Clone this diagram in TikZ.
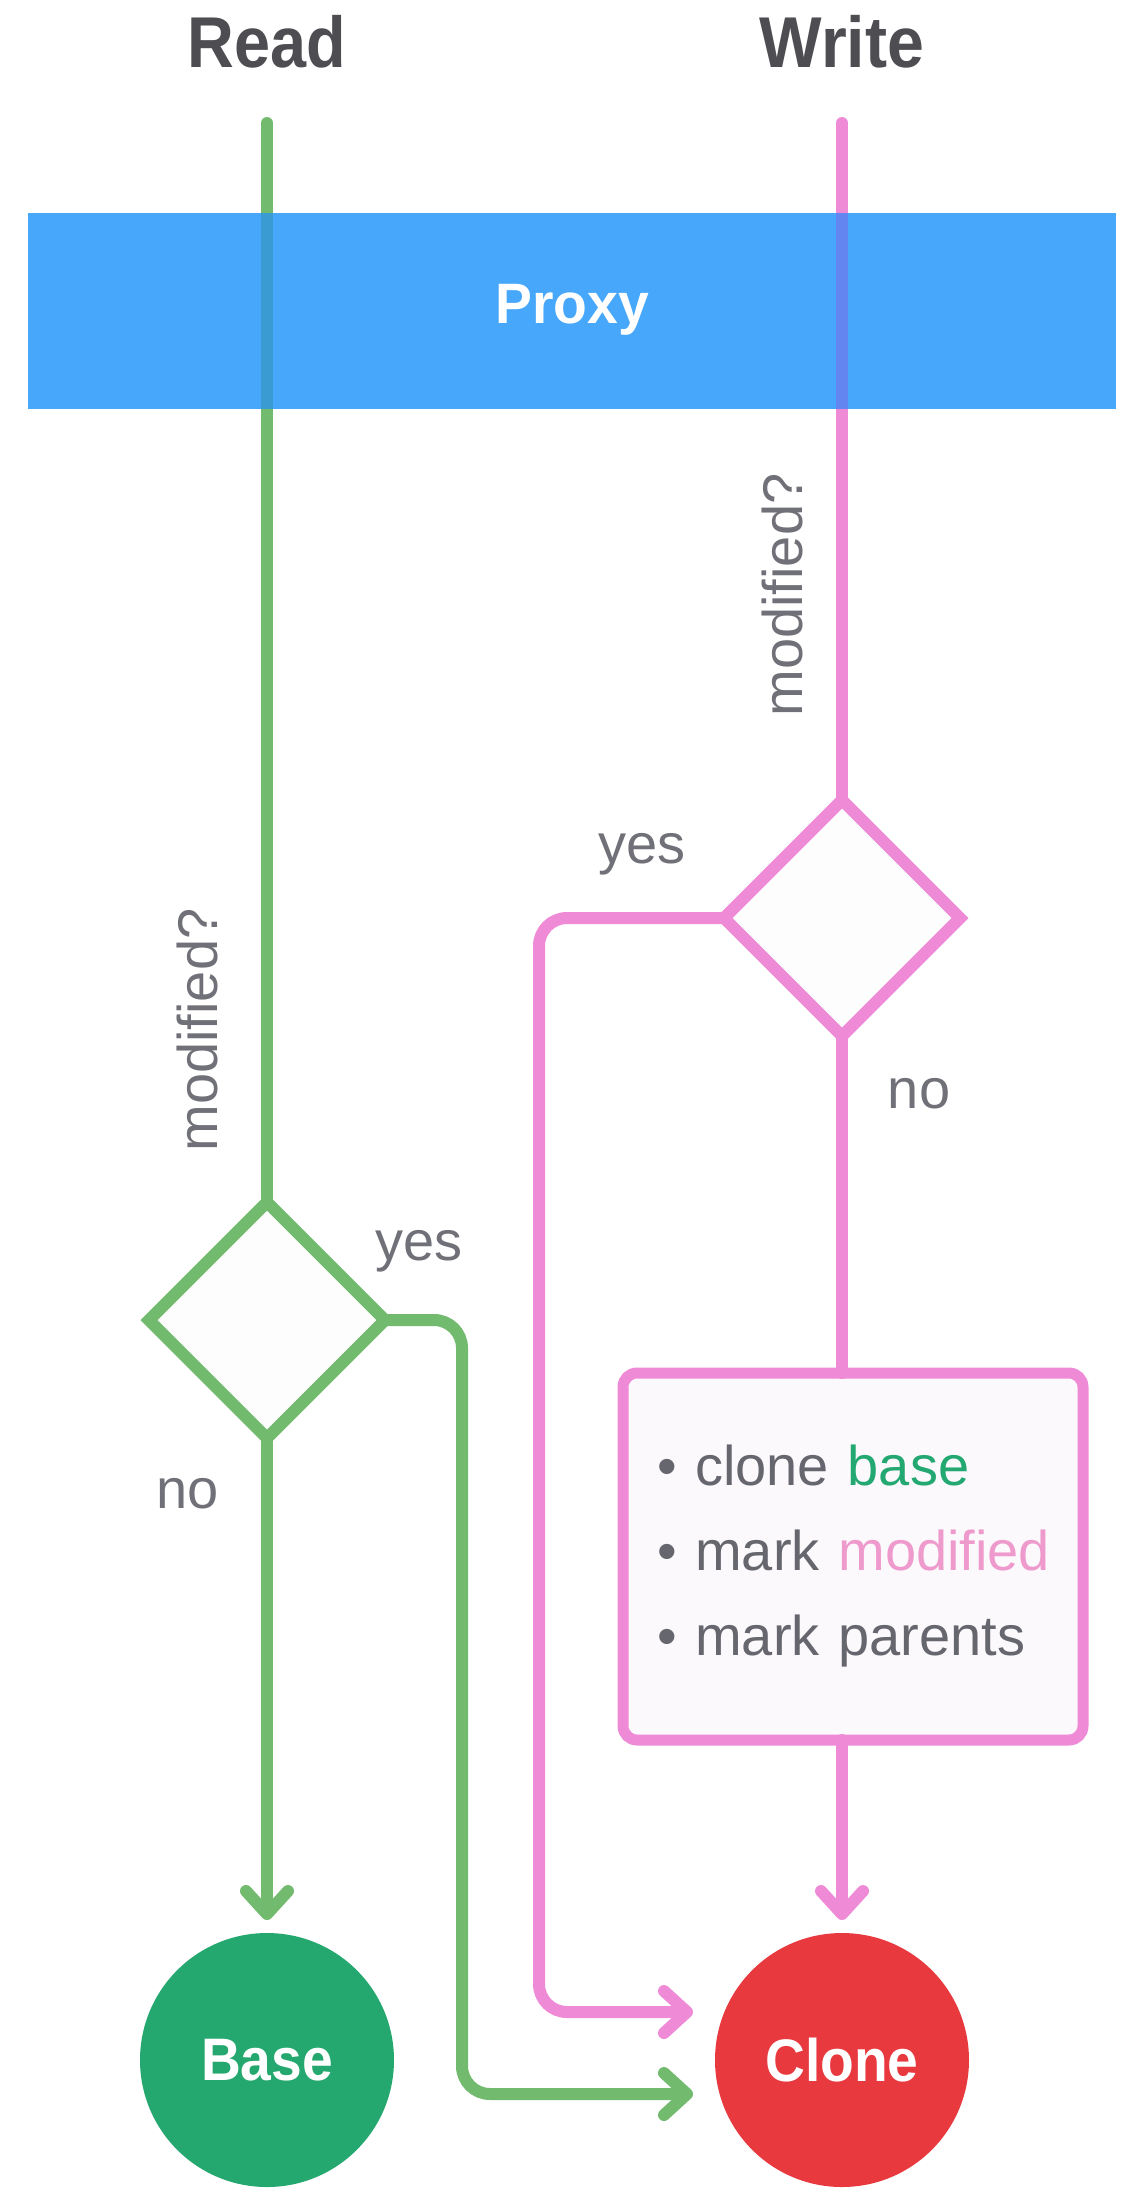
\documentclass[tikz,border=0pt]{standalone}
\usepackage{fontspec}
\setmainfont{Liberation Sans}
\usetikzlibrary{shapes.geometric, arrows.meta}
\definecolor{gline}{HTML}{72BA6E}
\definecolor{pline}{HTML}{EE8AD6}
\definecolor{gmix}{HTML}{3A9AD2}
\definecolor{pmix}{HTML}{6285F0}
\definecolor{bandblue}{HTML}{47A7FB}
\definecolor{basegreen}{HTML}{24A86F}
\definecolor{clonered}{HTML}{E8393F}
\definecolor{lblgrey}{HTML}{707078}
\definecolor{headgrey}{HTML}{4D4D52}
\definecolor{txtgrey}{HTML}{66666E}
\definecolor{wordgreen}{HTML}{23A872}
\definecolor{wordpink}{HTML}{EE9ACD}
\definecolor{dfill}{HTML}{FDFDFE}
\definecolor{bfill}{HTML}{FBF9FC}
\begin{document}
\begin{tikzpicture}[x=0.5pt,y=-0.5pt,
  gl/.style={draw=gline, line width=6pt, line cap=round},
  pl/.style={draw=pline, line width=6pt, line cap=round},
  arr/.style={-{Straight Barb[length=11.5pt,width=21pt,round]}},
  dec/.style={diamond, aspect=1, minimum size=118pt, inner sep=0pt, outer sep=0pt, line width=6pt, fill=dfill},
  term/.style={circle, minimum size=127pt, inner sep=0pt, outer sep=0pt, text=white, font=\bfseries\fontsize{30}{34}\selectfont},
  lbl/.style={text=lblgrey, font=\fontsize{28}{34}\selectfont, inner sep=0pt},
  head/.style={text=headgrey, font=\bfseries\fontsize{36}{42}\selectfont, inner sep=0pt},
  stepbox/.style={rectangle, rounded corners=7pt, draw=pline, line width=5.5pt, fill=bfill,
    minimum width=230pt, minimum height=183.5pt, text width=202pt, inner xsep=14pt, inner ysep=0pt,
    outer sep=0pt, align=left, text=txtgrey, font=\fontsize{28}{42.5}\selectfont}
]
\useasboundingbox (0,0) rectangle (1128,2202);

% headings
\node[head, anchor=base] (read) at (267,67) {\scalebox{0.9}[1]{Read}};
\node[head, anchor=base] (write) at (842,67) {\scalebox{0.92}[1]{Write}};

% proxy band
\node[rectangle, fill=bandblue, minimum width=544pt, minimum height=98pt, inner sep=0pt, outer sep=0pt] (proxy) at (572,311) {};
\node[text=white, font=\bfseries\fontsize{28.5}{34}\selectfont, inner sep=0pt, anchor=base] (proxytxt) at (572,323) {\scalebox{0.97}[1]{Proxy}};

% nodes
\node[dec, draw=gline] (gd) at (267,1320) {};
\node[dec, draw=pline] (pd) at (842,918) {};
\node[stepbox] (box) at (853,1556.5) {\hspace*{3pt}\textbullet\ clone \textcolor{wordgreen}{base}\\\hspace*{3pt}\textbullet\ mark \textcolor{wordpink}{modified}\\\hspace*{3pt}\textbullet\ mark parents};
\node[term, fill=basegreen] (base) at (267,2060) {\scalebox{0.92}[1]{Base}};
\node[term, fill=clonered] (clone) at (842,2060) {\scalebox{0.92}[1]{Clone}};

\coordinate (gtop) at (267,123);
\coordinate (ptop) at (842,123);
\coordinate (gy) at (462,2094);
\coordinate (py) at (539,2012);

% read path
\draw[gl] (gtop) -- (gd.north);
\draw[gl, arr, shorten >=6.5pt] (gd.south) -- (base.north);
\draw[gl, arr, rounded corners=14pt, shorten >=11pt] (gd.east) -| (gy) -- (gy -| clone.west);

% write path
\draw[pl] (ptop) -- (pd.north);
\draw[pl] (pd.south) -- (pd.south |- box.north);
\draw[pl, arr, shorten >=6.5pt] (box.south -| clone.north) -- (clone.north);
\draw[pl, arr, rounded corners=14pt, shorten >=11pt] (pd.west) -| (py) -- (py -| clone.west);

% lines seen through the band
\draw[line width=6pt, gmix] (267,213) -- (267,409);
\draw[line width=6pt, pmix] (842,213) -- (842,409);

% labels
\node[lbl, rotate=90, anchor=base] (pmod) at (802,595) {modified?};
\node[lbl, rotate=90, anchor=base] (gmod) at (217,1030) {modified?};
\node[lbl, anchor=base] (pyes) at (642,863) {yes};
\node[lbl, anchor=base] (pno) at (919,1108) {no};
\node[lbl, anchor=base] (gyes) at (419,1260) {yes};
\node[lbl, anchor=base] (gno) at (188,1508) {no};
\end{tikzpicture}
\end{document}
